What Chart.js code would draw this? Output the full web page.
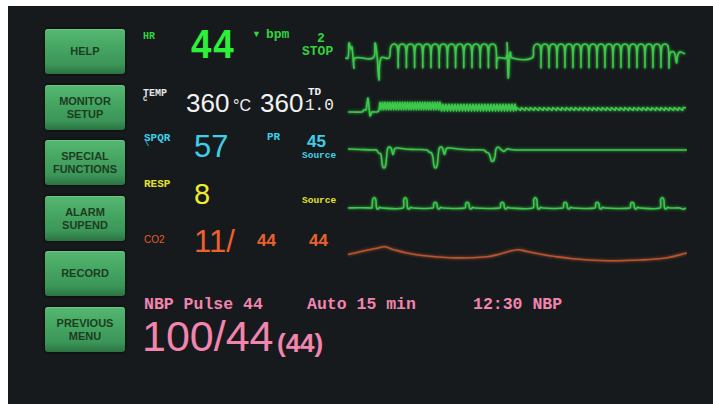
<!DOCTYPE html>
<html>
<head>
<meta charset="utf-8">
<script src="https://cdn.jsdelivr.net/npm/chart.js@4"></script>
<style>
  body { margin: 0; background: #fff; width: 713px; height: 404px; overflow: hidden; position: relative; }
  #screen { position: absolute; left: 8px; top: 6px; width: 705px; height: 398px; background: #161a1d; }
  .btn {
    position: absolute; left: 45px; width: 80px; height: 45px; border-radius: 3px;
    background: linear-gradient(to bottom, #55b872 0%, #46a663 40%, #3b9658 78%, #2b7342 100%);
    box-shadow: 0 0 3px rgba(0,0,0,0.9), inset 0 1px 0 rgba(255,255,255,0.18);
    display: flex; align-items: center; justify-content: center; text-align: center;
    font: bold 11px/13px 'Liberation Sans', Arial, sans-serif; color: #1d3c22;
  }
  .t { position: absolute; white-space: pre; line-height: 1; margin: 0; }
  .mono { font-family: 'Liberation Mono', 'DejaVu Sans Mono', monospace; font-weight: bold; }
  .sans { font-family: 'Liberation Sans', Arial, sans-serif; }
  canvas { position: absolute; left: 345px; }
</style>
</head>
<body>
<div id="screen"></div>

<div class="btn" style="top:29px">HELP</div>
<div class="btn" style="top:85px">MONITOR<br>SETUP</div>
<div class="btn" style="top:140px">SPECIAL<br>FUNCTIONS</div>
<div class="btn" style="top:196px">ALARM<br>SUPEND</div>
<div class="btn" style="top:251px">RECORD</div>
<div class="btn" style="top:307px">PREVIOUS<br>MENU</div>

<!-- HR row -->
<div class="t mono" style="left:143px;top:32px;font-size:10px;color:#33d23f">HR</div>
<div class="t sans" style="left:191px;top:24px;font-size:40px;font-weight:bold;color:#2cf03a;transform:scaleX(0.92);transform-origin:left top;letter-spacing:2px">44</div>
<div class="t sans" style="left:252px;top:30px;font-size:9px;color:#33d23f">▼</div>
<div class="t mono" style="left:266px;top:28px;font-size:13px;color:#33d23f">bpm</div>
<div class="t mono" style="left:317px;top:32px;font-size:13px;color:#33d23f">2</div>
<div class="t mono" style="left:302px;top:45px;font-size:13px;color:#33d23f">STOP</div>

<!-- TEMP row -->
<div class="t mono" style="left:143px;top:89px;font-size:10px;color:#e6e6e6">TEMP</div>
<div class="t mono" style="left:143px;top:96px;font-size:7px;color:#e6e6e6">C</div>
<div class="t sans" style="left:186px;top:90px;font-size:26px;color:#f2f2f2">360</div>
<div class="t sans" style="left:233px;top:98px;font-size:16px;color:#f2f2f2">°C</div>
<div class="t sans" style="left:260px;top:90px;font-size:26px;color:#f2f2f2">360</div>
<div class="t mono" style="left:308px;top:87px;font-size:11px;color:#f2f2f2">TD</div>
<div class="t mono" style="left:305px;top:98px;font-size:16px;font-weight:normal;color:#f2f2f2">1.0</div>

<!-- SPO2 row -->
<div class="t mono" style="left:144px;top:133px;font-size:11px;color:#3ecfe8">SPQR</div>
<div class="t mono" style="left:145px;top:141px;font-size:7px;color:#3ecfe8">\</div>
<div class="t sans" style="left:194px;top:131px;font-size:31px;color:#3ecfe8">57</div>
<div class="t mono" style="left:267px;top:132px;font-size:11px;color:#3ecfe8">PR</div>
<div class="t sans" style="left:307px;top:133px;font-size:17px;font-weight:bold;color:#3ecfe8">45</div>
<div class="t mono" style="left:302px;top:151px;font-size:9.5px;color:#3ecfe8">Source</div>

<!-- RESP row -->
<div class="t mono" style="left:144px;top:179px;font-size:11px;color:#e4e030">RESP</div>
<div class="t sans" style="left:194px;top:180px;font-size:29px;color:#f0ec2e">8</div>
<div class="t mono" style="left:302px;top:196px;font-size:9.5px;color:#e4e030">Source</div>

<!-- CO2 row -->
<div class="t sans" style="left:144px;top:235px;font-size:10px;color:#e65a2c">CO2</div>
<div class="t sans" style="left:194px;top:226px;font-size:31px;color:#ee602e">11/</div>
<div class="t sans" style="left:257px;top:232px;font-size:17px;font-weight:bold;color:#e8622e">44</div>
<div class="t sans" style="left:309px;top:232px;font-size:17px;font-weight:bold;color:#e8622e">44</div>

<!-- NBP -->
<div class="t mono" style="left:144px;top:297px;font-size:16.5px;color:#f285ae">NBP Pulse 44</div>
<div class="t mono" style="left:307px;top:297px;font-size:16.5px;color:#f285ae">Auto 15 min</div>
<div class="t mono" style="left:473px;top:297px;font-size:16.5px;color:#f285ae">12:30 NBP</div>
<div class="t sans" style="left:142px;top:315px;font-size:43px;color:#f285ae">100/44</div>
<div class="t sans" style="left:277px;top:330px;font-size:26px;font-weight:bold;color:#f285ae">(44)</div>

<canvas id="ecg" width="342" height="55" style="top:33px"></canvas>
<canvas id="tdWave" width="342" height="28" style="top:92px"></canvas>
<canvas id="spo2" width="342" height="35" style="top:140px"></canvas>
<canvas id="resp" width="342" height="25" style="top:190px"></canvas>
<canvas id="co2" width="342" height="28" style="top:240px"></canvas>

<script>
// strip time axis: 0 .. 342 samples
var SWEEP = 342;

// ECG lead, [sample, mV]
var ecgTrace = [
  [0,0],[3,0],[4,1.5],[6,0.9],[7,1.1],[9,-1.0],[10,0],[28,0],[30,1.5],[32,0.3],[34,-2.2],[36,0],[44,0],
  [45.8,1.1],[49.1,1.4],[52.4,1.1],
  [53.2,-1.0],[54.0,1.1],[57.3,1.4],[60.6,1.1],
  [61.4,-1.0],[62.2,1.1],[65.5,1.4],[68.8,1.1],
  [69.6,-1.0],[70.4,1.1],[73.7,1.4],[77.0,1.1],
  [77.8,-1.0],[78.6,1.1],[81.9,1.4],[85.2,1.1],
  [86.0,-1.0],[86.8,1.1],[90.1,1.4],[93.4,1.1],
  [94.2,-1.0],[95.0,1.1],[98.3,1.4],[101.6,1.1],
  [102.4,-1.0],[103.2,1.1],[106.5,1.4],[109.8,1.1],
  [110.6,-1.0],[111.4,1.1],[114.7,1.4],[118.0,1.1],
  [118.8,-1.0],[119.6,1.1],[122.9,1.4],[126.2,1.1],
  [127.0,-1.0],[127.8,1.1],[131.1,1.4],[134.4,1.1],
  [135.2,-1.0],[136.0,1.1],[139.3,1.4],[142.6,1.1],
  [143.4,-1.0],[144.2,1.1],[147.5,1.4],[150.8,1.1],
  [151.6,-1.0],[153,0],[161,0],[162,1.5],[163.2,-2.0],[164.5,0.2],[165.5,0.6],[167,0],[187,0],
  [188.8,1.1],[192.1,1.4],[195.4,1.1],
  [196,-1.0],[196.8,1.1],[200,1.4],[203.2,1.1],
  [204,-1.0],[204.8,1.1],[208,1.4],[211.2,1.1],
  [212,-1.0],[212.8,1.1],[216,1.4],[219.2,1.1],
  [220,-1.0],[220.8,1.1],[224,1.4],[227.2,1.1],
  [228,-1.0],[228.8,1.1],[232,1.4],[235.2,1.1],
  [236,-1.0],[236.8,1.1],[240,1.4],[243.2,1.1],
  [244,-1.0],[244.8,1.1],[248,1.4],[251.2,1.1],
  [252,-1.0],[252.8,1.1],[256,1.4],[259.2,1.1],
  [260,-1.0],[260.8,1.1],[264,1.4],[267.2,1.1],
  [268,-1.0],[268.8,1.1],[272,1.4],[275.2,1.1],
  [276,-1.0],[276.8,1.1],[280,1.4],[283.2,1.1],
  [284,-1.0],[284.8,1.1],[288,1.4],[291.2,1.1],
  [292,-1.0],[292.8,1.1],[296,1.4],[299.2,1.1],
  [300,-1.0],[300.8,1.1],[304,1.4],[307.2,1.1],
  [308,-1.0],[308.8,1.1],[312,1.4],[315.2,1.1],
  [316,-1.0],[316.8,1.1],[320,1.4],[323.2,1.1],
  [324,-1.0],[324.8,0.4],[327,0.65],[329.5,0.5],[331.5,-0.5],[332.5,0.2],[334.5,0.6],[337,0.55],[340,0.4]
];

// second trace (TD), [sample, units]
var tdTrace = [
  [3,0],[17,0],[19,0.2],[21,0.2],[23,1.4],[25,-0.4],[27,0],[32,0],[34,0.2],
  [35,1],[36.2,0.2],[37.5,1],[38.7,0.2],[40,1],[41.2,0.2],[42.5,1],[43.7,0.2],[45,1],[46.2,0.2],
  [47.5,1],[48.7,0.2],[50,1],[51.2,0.2],[52.5,1],[53.7,0.2],[55,1],[56.2,0.2],[57.5,1],[58.7,0.2],
  [60,1],[61.2,0.2],[62.5,1],[63.7,0.2],[65,1],[66.2,0.2],[67.5,1],[68.7,0.2],[70,1],[71.2,0.2],
  [72.5,1],[73.7,0.2],[75,1],[76.2,0.2],[77.5,1],[78.7,0.2],[80,1],[81.2,0.2],[82.5,1],[83.7,0.2],
  [85,1],[86.2,0.2],[87.5,1],[88.7,0.2],[90,1],[91.2,0.2],[92.5,1],[93.7,0.2],[95,1],
  [96.5,0.1],[98,0.8],[99.5,0.1],[101,0.8],[102.5,0.1],[104,0.8],[105.5,0.1],[107,0.8],[108.5,0.1],
  [110,0.8],[111.5,0.1],[113,0.8],[114.5,0.1],[116,0.8],[117.5,0.1],[119,0.8],[120.5,0.1],[122,0.8],
  [123.5,0.1],[125,0.8],[126.5,0.1],[128,0.8],[129.5,0.1],[131,0.8],[132.5,0.1],[134,0.8],[135.5,0.1],
  [137,0.8],[138.5,0.1],[140,0.8],[141.5,0.1],[143,0.8],[144.5,0.1],[146,0.8],[147.5,0.1],[149,0.8],
  [150.5,0.1],[152,0.8],[153.5,0.1],[155,0.8],[156.5,0.1],[158,0.8],[159.5,0.1],[161,0.8],[162.5,0.1],
  [164,0.8],[165.5,0.1],[167,0.8],[168.5,0.1],[170,0.8],
  [171,0.15],[171.8,0.45],[175.5,0.15],[176.3,0.45],[180,0.15],[180.8,0.45],[184.5,0.15],[185.3,0.45],
  [189,0.15],[189.8,0.45],[193.5,0.15],[194.3,0.45],[198,0.15],[198.8,0.45],[202.5,0.15],[203.3,0.45],
  [207,0.15],[207.8,0.45],[211.5,0.15],[212.3,0.45],[216,0.15],[216.8,0.45],[220.5,0.15],[221.3,0.45],
  [225,0.15],[225.8,0.45],[229.5,0.15],[230.3,0.45],[234,0.15],[234.8,0.45],[238.5,0.15],[239.3,0.45],
  [243,0.15],[243.8,0.45],[247.5,0.15],[248.3,0.45],[252,0.15],[252.8,0.45],[256.5,0.15],[257.3,0.45],
  [261,0.15],[261.8,0.45],[265.5,0.15],[266.3,0.45],[270,0.15],[270.8,0.45],[274.5,0.15],[275.3,0.45],
  [279,0.15],[279.8,0.45],[283.5,0.15],[284.3,0.45],[288,0.15],[288.8,0.45],[292.5,0.15],[293.3,0.45],
  [297,0.15],[297.8,0.45],[301.5,0.15],[302.3,0.45],[306,0.15],[306.8,0.45],[310.5,0.15],[311.3,0.45],
  [315,0.15],[315.8,0.45],[319.5,0.15],[320.3,0.45],[324,0.15],[324.8,0.45],[328.5,0.15],[329.3,0.45],
  [333,0.15],[333.8,0.45],[337.5,0.15],[338.3,0.45],[341,0.42]
];

// pleth, [sample, units]
var spo2Trace = [
  [3,0.1],[15,0.05],[28,0],[31.5,0],[33.5,-0.3],[35.5,-0.35],[36.5,-0.8],[37.5,-1.6],[39,-1.8],[40.5,-1.6],
  [41.5,-0.8],[42.5,0.1],[44,0.3],[46,0.2],[48,-0.45],[50,0.15],[53,0.2],[60,0.1],[70,0.05],[82,0],
  [84,-0.2],[86.5,-0.3],[88,-0.8],[89,-1.6],[90.5,-1.8],[92,-1.6],[93,-0.8],[94,0.1],[95.5,0.3],[97.5,0.2],
  [99.5,-0.45],[101.5,0.15],[105,0.2],[113,0.1],[125,0.02],[139,0],[141,-0.2],[143.5,-0.3],[145,-0.6],
  [146.5,-1.1],[148.5,-1.1],[150,-0.6],[151,0.1],[153,0.3],[156,0.05],[159,-0.15],[162,0.1],[166,0.05],
  [173,0],[342,0]
];

// respiration, [sample, units]
var respTrace = [
  [3,0],[15,0.03],[26,0],
  [27,0],[27.6,0.8],[28.5,1],[30,1],[30.9,0.8],[31.5,0],[33,-0.1],[35,0.08],[37,0],
  [58,0],[58.6,0.8],[59.5,1],[61,1],[61.9,0.8],[62.5,0],[64,-0.1],[66,0.08],[68,0],
  [88,0],[88.6,0.44],[89.5,0.55],[91,0.55],[91.9,0.44],[92.5,0],[94,-0.1],[96,0.08],[98,0],
  [120,0],[120.6,0.44],[121.5,0.55],[123,0.55],[123.9,0.44],[124.5,0],[126,-0.1],[128,0.08],[130,0],
  [155,0],[155.6,0.44],[156.5,0.55],[158,0.55],[158.9,0.44],[159.5,0],[161,-0.1],[163,0.08],[165,0],
  [188,0],[188.6,0.8],[189.5,1],[191,1],[191.9,0.8],[192.5,0],[194,-0.1],[196,0.08],[198,0],
  [218,0],[218.6,0.44],[219.5,0.55],[221,0.55],[221.9,0.44],[222.5,0],[224,-0.1],[226,0.08],[228,0],
  [250,0],[250.6,0.44],[251.5,0.55],[253,0.55],[253.9,0.44],[254.5,0],[256,-0.1],[258,0.08],[260,0],
  [285,0],[285.6,0.44],[286.5,0.55],[288,0.55],[288.9,0.44],[289.5,0],[291,-0.1],[293,0.08],[295,0],
  [315,0],[315.6,0.8],[316.5,1],[318,1],[318.9,0.8],[319.5,0],[321,-0.1],[323,0.08],[325,0],
  [335,0],[338,-0.12],[341,0]
];

// capnogram, [sample, units]
var co2Trace = [
  [3,0.55],[12,0.75],[22,0.98],[32,1.18],[40,1.32],[48,1.05],[62,0.7],[80,0.42],[105,0.23],[125,0.22],
  [142,0.32],[155,0.6],[162,0.8],[173,1.03],[182,0.85],[195,0.6],[210,0.35],[228,0.13],[262,-0.07],
  [295,0],[322,0.23],[342,0.7]
];

var strips = [
  { id: 'ecg', trace: ecgTrace, color: '#3cc84a', min: -3.0, max: 2.5, tension: 0.4 },
  { id: 'tdWave', trace: tdTrace, color: '#3cc84a', min: -0.8, max: 2.0, tension: 0.2 },
  { id: 'spo2', trace: spo2Trace, color: '#3cc84a', min: -2.5, max: 1.0, tension: 0.4 },
  { id: 'resp', trace: respTrace, color: '#3cc84a', min: -0.7, max: 1.8, tension: 0.3 },
  { id: 'co2', trace: co2Trace, color: '#b8552e', min: -0.8, max: 2.0, tension: 0.4 }
];

const glow = {
  id: 'glow',
  beforeDatasetDraw(chart, args) {
    const ctx = chart.ctx;
    ctx.save();
    ctx.shadowColor = args.meta.dataset.options.borderColor;
    ctx.shadowBlur = 3;
  },
  afterDatasetDraw(chart) {
    chart.ctx.restore();
  }
};

strips.forEach(function (s) {
  new Chart(document.getElementById(s.id), {
    type: 'line',
    data: {
      datasets: [{
        data: s.trace.map(p => ({ x: p[0], y: p[1] })),
        borderColor: s.color,
        borderWidth: 1.6,
        pointRadius: 0,
        tension: s.tension,
        fill: false,
        clip: 4
      }]
    },
    options: {
      responsive: false,
      animation: false,
      layout: { padding: 0 },
      plugins: { legend: { display: false }, tooltip: { enabled: false } },
      scales: {
        x: { type: 'linear', display: false, min: 0, max: SWEEP },
        y: { display: false, min: s.min, max: s.max }
      }
    },
    plugins: [glow]
  });
});
</script>
</body>
</html>
